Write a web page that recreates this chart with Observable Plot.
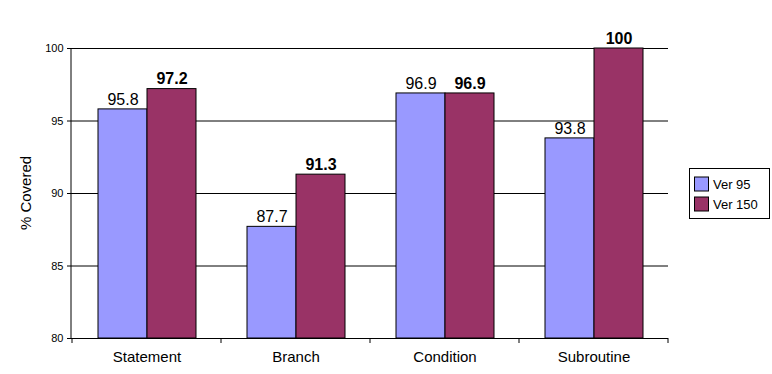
<!DOCTYPE html>
<html>
<head>
<meta charset="utf-8">
<script src="https://cdn.jsdelivr.net/npm/d3@7"></script>
<script src="https://cdn.jsdelivr.net/npm/@observablehq/plot@0.6"></script>
<style>
  html, body { margin: 0; padding: 0; background: #fff; }
  svg { font-family: Arial, "Liberation Sans", sans-serif; }
</style>
</head>
<body>
<div id="chart"></div>
<script>
const categories = ["Statement", "Branch", "Condition", "Subroutine"];
const series = ["Ver 95", "Ver 150"];
const ver95 = [95.8, 87.7, 96.9, 93.8];
const ver150 = [97.2, 91.3, 96.9, 100];
const yTicks = [80, 85, 90, 95, 100];
const colors = ["#9999FF", "#993366"];

const data = categories.flatMap((c, i) => [
  {category: c, series: series[0], value: ver95[i]},
  {category: c, series: series[1], value: ver150[i]}
]);

const font = 'Arial, "Liberation Sans", sans-serif';

const chart = Plot.plot({
  width: 772,
  height: 374,
  marginLeft: 71,
  marginRight: 104,
  marginTop: 48,
  marginBottom: 36,
  style: {fontFamily: font, background: "#fff", color: "#000"},
  fx: {domain: categories, padding: 0, label: null, axis: null},
  x: {domain: series, paddingInner: 0, paddingOuter: 0.5, axis: null},
  y: {domain: [80, 100], ticks: yTicks, label: null},
  color: {domain: series, range: colors},
  marks: [
    Plot.ruleY(yTicks.slice(1), {stroke: "#000", strokeWidth: 1}),
    Plot.barY(data, {
      fx: "category", x: "series", y1: 80, y2: "value",
      fill: "series", stroke: "#000", strokeWidth: 1, inset: 0
    }),
    Plot.text(data.filter(d => d.series === series[0]), {
      fx: "category", x: "series", y: "value", text: d => String(d.value),
      dy: -10, fontSize: 16, fill: "#000"
    }),
    Plot.text(data.filter(d => d.series === series[1]), {
      fx: "category", x: "series", y: "value", text: d => String(d.value),
      dy: -10, fontSize: 16, fontWeight: "bold", fill: "#000"
    }),
    Plot.ruleY([80], {stroke: "#000", strokeWidth: 1}),
    Plot.axisY({ticks: yTicks, tickSize: 5, tickPadding: 4, fontSize: 11, label: null}),
    Plot.axisFx({anchor: "bottom", tickSize: 0, tickPadding: 13, fontSize: 15, label: null})
  ]
});

document.getElementById("chart").appendChild(chart);

// Post-render decorations drawn from the plot's own scales
const svg = d3.select(chart);
const fx = chart.scale("fx");
const y = chart.scale("y");
const color = chart.scale("color");
const x0 = fx.range[0];
const yTop = y.apply(100), yBot = y.apply(80);

// left axis line
svg.append("line")
  .attr("x1", x0).attr("x2", x0).attr("y1", yTop).attr("y2", yBot)
  .attr("stroke", "#000");

// category boundary ticks on x axis
const bounds = categories.map(c => fx.apply(c)).concat([fx.apply(categories[categories.length - 1]) + fx.step]);
svg.append("g").selectAll("line").data(bounds).join("line")
  .attr("x1", d => d).attr("x2", d => d)
  .attr("y1", yBot).attr("y2", yBot + 5)
  .attr("stroke", "#000");

// y axis title
svg.append("text")
  .attr("transform", `translate(25,${(yTop + yBot) / 2}) rotate(-90)`)
  .attr("text-anchor", "middle")
  .attr("dominant-baseline", "central")
  .attr("font-size", 15)
  .attr("font-family", font)
  .text("% Covered");

// legend
const lg = svg.append("g").attr("transform", "translate(689.5,168.5)");
lg.append("rect").attr("width", 80).attr("height", 50)
  .attr("fill", "#fff").attr("stroke", "#000");
series.forEach((s, i) => {
  const row = lg.append("g").attr("transform", `translate(5,${8.5 + i * 20})`);
  row.append("rect").attr("width", 14).attr("height", 14)
    .attr("fill", color.apply(s)).attr("stroke", "#000");
  row.append("text").attr("x", 18.5).attr("y", 7)
    .attr("text-anchor", "start")
    .attr("dominant-baseline", "central")
    .attr("font-size", 13).attr("font-family", font)
    .text(s);
});
</script>
</body>
</html>
